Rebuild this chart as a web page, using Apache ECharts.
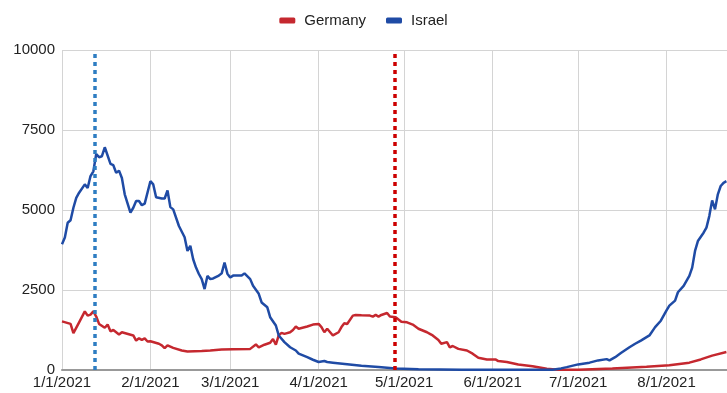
<!DOCTYPE html>
<html>
<head>
<meta charset="utf-8">
<script src="https://cdn.jsdelivr.net/npm/echarts@6/dist/echarts.min.js"></script>
<style>
  html, body { margin: 0; padding: 0; background: #fff; }
  #chart { width: 727px; height: 393px; }
</style>
</head>
<body>
<div id="chart"></div>
<script>
// Daily case counts, 2021
const germanyDates = ['2021-01-01','2021-01-04','2021-01-05','2021-01-07','2021-01-09','2021-01-10','2021-01-11','2021-01-12','2021-01-13','2021-01-14','2021-01-16','2021-01-17','2021-01-18','2021-01-19','2021-01-21','2021-01-22','2021-01-26','2021-01-27','2021-01-28','2021-01-29','2021-01-30','2021-01-31','2021-02-01','2021-02-04','2021-02-05','2021-02-06','2021-02-07','2021-02-09','2021-02-12','2021-02-14','2021-02-19','2021-02-22','2021-02-26','2021-03-02','2021-03-08','2021-03-10','2021-03-11','2021-03-13','2021-03-15','2021-03-16','2021-03-17','2021-03-18','2021-03-19','2021-03-20','2021-03-22','2021-03-23','2021-03-24','2021-03-25','2021-03-28','2021-03-30','2021-04-01','2021-04-02','2021-04-03','2021-04-04','2021-04-06','2021-04-08','2021-04-09','2021-04-10','2021-04-11','2021-04-13','2021-04-14','2021-04-16','2021-04-19','2021-04-20','2021-04-21','2021-04-22','2021-04-23','2021-04-25','2021-04-26','2021-04-28','2021-04-30','2021-05-02','2021-05-04','2021-05-06','2021-05-09','2021-05-10','2021-05-11','2021-05-13','2021-05-14','2021-05-16','2021-05-17','2021-05-18','2021-05-20','2021-05-23','2021-05-25','2021-05-27','2021-05-30','2021-06-02','2021-06-03','2021-06-06','2021-06-10','2021-06-15','2021-06-20','2021-06-24','2021-07-01','2021-07-13','2021-07-25','2021-08-02','2021-08-09','2021-08-13','2021-08-17','2021-08-22'];
const germanyCases = [1520,1440,1150,1490,1830,1700,1730,1830,1670,1440,1320,1420,1210,1250,1110,1180,1080,920,990,940,990,890,900,820,770,680,770,690,610,580,590,610,640,650,660,800,710,790,850,970,790,1080,1160,1130,1180,1250,1360,1290,1360,1420,1440,1340,1180,1290,1080,1180,1340,1460,1440,1700,1720,1710,1700,1670,1720,1670,1720,1780,1670,1650,1510,1490,1420,1290,1180,1130,1080,940,820,870,710,750,660,610,510,380,330,330,280,250,170,120,40,10,10,50,100,150,230,330,450,560];

const israelDates = ['2021-01-01','2021-01-02','2021-01-03','2021-01-04','2021-01-05','2021-01-06','2021-01-07','2021-01-09','2021-01-10','2021-01-11','2021-01-12','2021-01-13','2021-01-14','2021-01-15','2021-01-16','2021-01-18','2021-01-19','2021-01-20','2021-01-21','2021-01-22','2021-01-23','2021-01-25','2021-01-26','2021-01-27','2021-01-28','2021-01-29','2021-01-30','2021-02-01','2021-02-02','2021-02-03','2021-02-05','2021-02-06','2021-02-07','2021-02-08','2021-02-09','2021-02-11','2021-02-13','2021-02-14','2021-02-15','2021-02-16','2021-02-17','2021-02-18','2021-02-19','2021-02-20','2021-02-21','2021-02-22','2021-02-23','2021-02-25','2021-02-26','2021-02-27','2021-02-28','2021-03-01','2021-03-02','2021-03-05','2021-03-06','2021-03-08','2021-03-09','2021-03-11','2021-03-12','2021-03-14','2021-03-15','2021-03-17','2021-03-18','2021-03-20','2021-03-22','2021-03-24','2021-03-25','2021-03-28','2021-03-30','2021-04-01','2021-04-03','2021-04-04','2021-04-06','2021-04-11','2021-04-16','2021-04-22','2021-04-28','2021-05-06','2021-05-21','2021-06-10','2021-06-22','2021-06-25','2021-06-27','2021-07-01','2021-07-05','2021-07-08','2021-07-11','2021-07-12','2021-07-14','2021-07-16','2021-07-19','2021-07-21','2021-07-23','2021-07-26','2021-07-28','2021-07-30','2021-08-01','2021-08-02','2021-08-04','2021-08-05','2021-08-07','2021-08-09','2021-08-10','2021-08-11','2021-08-12','2021-08-14','2021-08-15','2021-08-16','2021-08-17','2021-08-18','2021-08-19','2021-08-20','2021-08-21','2021-08-22'];
const israelCases = [3930,4140,4600,4680,5070,5380,5540,5800,5690,6060,6210,6750,6650,6680,6960,6440,6400,6160,6230,6000,5490,4920,5070,5280,5280,5150,5200,5900,5800,5400,5360,5360,5610,5090,5020,4500,4150,3720,3880,3460,3200,3000,2840,2530,2940,2840,2860,2950,3020,3360,3010,2890,2950,2950,3020,2840,2630,2380,2110,1960,1650,1390,1080,870,710,610,510,400,320,250,280,250,230,180,130,90,50,20,10,5,10,50,90,175,230,300,340,300,400,530,710,820,920,1080,1340,1540,1860,2010,2170,2430,2630,2940,3200,3720,4030,4290,4450,4810,5300,5020,5490,5750,5850,5900];

// Reference dates marked with dotted vertical lines
const israelMarkDate = '2021-01-12 14:00';
const germanyMarkDate = '2021-04-27 20:00';

const seriesNames = ['Germany', 'Israel'];
const yTicks = [0, 2500, 5000, 7500, 10000];
const xStart = '2021-01-01';
const xEnd = '2021-08-22 05:00';

const zip = (d, v) => d.map((x, i) => [x, v[i]]);
const fontFamily = 'Liberation Sans, Arial, Helvetica, sans-serif';

const chart = echarts.init(document.getElementById('chart'), null, { renderer: 'canvas' });

chart.setOption({
  animation: false,
  backgroundColor: '#ffffff',
  textStyle: { fontFamily: fontFamily },
  legend: {
    top: 8,
    left: 'center',
    icon: 'roundRect',
    itemWidth: 16,
    itemHeight: 6,
    itemGap: 20,
    textStyle: { fontSize: 15, color: '#222', fontFamily: fontFamily, padding: [0, 0, 0, 4] },
    data: seriesNames
  },
  grid: { left: 62, right: 0, top: 50, bottom: 23, containLabel: false },
  xAxis: {
    type: 'time',
    min: xStart,
    max: xEnd,
    splitNumber: 8,
    minInterval: 28 * 24 * 3600 * 1000,
    axisLine: { show: true, lineStyle: { color: '#999', width: 2 } },
    axisTick: { show: false },
    axisLabel: {
      fontSize: 15,
      color: '#222',
      margin: 5,
      hideOverlap: false,
      formatter: function (v) {
        const d = new Date(v);
        return (d.getMonth() + 1) + '/' + d.getDate() + '/' + d.getFullYear();
      }
    },
    splitLine: { show: true, lineStyle: { color: '#d4d4d4', width: 1 } }
  },
  yAxis: {
    type: 'value',
    min: yTicks[0],
    max: yTicks[yTicks.length - 1],
    interval: yTicks[1] - yTicks[0],
    axisLine: { show: false },
    axisTick: { show: false },
    axisLabel: { fontSize: 15, color: '#222', margin: 7, formatter: function (v) { return String(v); } },
    splitLine: { show: true, lineStyle: { color: '#d4d4d4', width: 1 } }
  },
  series: [
    {
      name: seriesNames[0],
      type: 'line',
      data: zip(germanyDates, germanyCases),
      showSymbol: false,
      color: '#c5282f',
      lineStyle: { width: 2.5, color: '#c5282f' },
      markLine: {
        silent: true,
        symbol: 'none',
        label: { show: false },
        lineStyle: { color: '#cc0000', width: 3.5, type: [4, 4] },
        data: [{ xAxis: germanyMarkDate }]
      }
    },
    {
      name: seriesNames[1],
      type: 'line',
      data: zip(israelDates, israelCases),
      showSymbol: false,
      color: '#1f4ba5',
      lineStyle: { width: 2.5, color: '#1f4ba5' },
      markLine: {
        silent: true,
        symbol: 'none',
        label: { show: false },
        lineStyle: { color: '#2e7dc2', width: 3.5, type: [4, 4] },
        data: [{ xAxis: israelMarkDate }]
      }
    }
  ]
});
</script>
</body>
</html>
